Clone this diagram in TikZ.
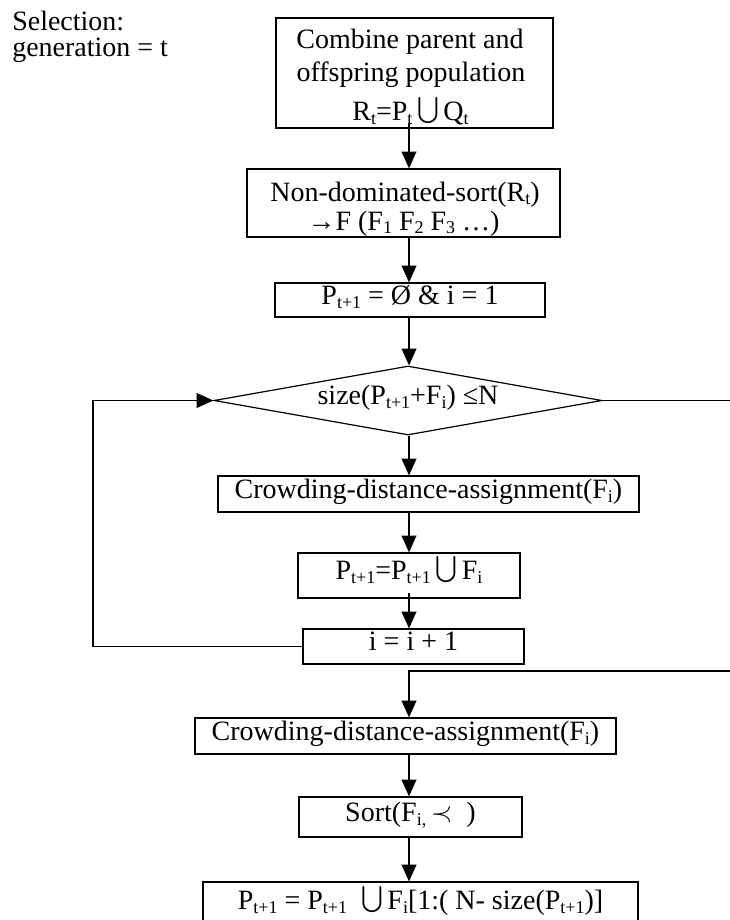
\documentclass[tikz,border=0pt]{standalone}
\usepackage{fontspec}
\usepackage{graphicx}
\setmainfont{Liberation Serif}
\usetikzlibrary{arrows.meta,shapes.geometric}
\newcommand\sbs[1]{\raisebox{-0.14em}{\fontsize{13.5}{13.5}\selectfont #1}}
\newcommand\bigun{\raisebox{-0.12em}{\resizebox{!}{0.95em}{$\bigcup$}}}
\newcommand\precsym{$\prec$}
\begin{document}
\begin{tikzpicture}[x=0.75pt,y=-0.75pt,
  font=\fontsize{21}{24}\selectfont,
  box/.style={draw, line width=0.9pt, inner sep=0pt, text height=0.66em, text depth=0pt},
  txt/.style={anchor=base, inner sep=0pt, text height=0.66em, text depth=0pt},
  arr/.style={line width=1pt, line join=miter, -{Triangle[length=12.5pt,width=11pt]}}]
\useasboundingbox (0,0) rectangle (730,920);
\clip (0,0) rectangle (730,920);

\node[anchor=base west, inner sep=0pt] (sel) at (12,31) {Selection:};
\node[anchor=base west, inner sep=0pt] (gen) at (12,57) {generation = t};

\node[box, minimum width=277*0.75pt, minimum height=110*0.75pt] (b1) at (414.5,73) {};
\node[txt] (b1a) at (410,49) {Combine parent and};
\node[txt] (b1b) at (411,82) {offspring population};
\node[txt] (b1c) at (410.5,121) {R\sbs{t}=P\sbs{t}\,\bigun\,Q\sbs{t}};

\node[box, minimum width=313*0.75pt, minimum height=68*0.75pt] (b2) at (403.5,203) {};
\node[txt] (b2a) at (405,201) {Non-dominated-sort(R\sbs{t})};
\node[txt] (b2b) at (403.5,230) {→F (F\sbs{1} F\sbs{2} F\sbs{3} …)};

\node[box, minimum width=270*0.75pt, minimum height=34*0.75pt] (b3) at (410,300) {P\sbs{t+1} = Ø \& i = 1};

\node[draw, diamond, line width=0.9pt, inner sep=0pt, shape aspect=5.6,
      minimum width=388*0.75pt, minimum height=69*0.75pt,
      text height=0.66em, text depth=0pt] (dia) at (408,400.5) {size(P\sbs{t+1}+F\sbs{i}) ≤N};

\node[box, minimum width=421*0.75pt, minimum height=36*0.75pt] (c1) at (428.5,494) {Crowding-distance-assignment(F\sbs{i})};
\node[box, minimum width=222*0.75pt, minimum height=45*0.75pt] (u) at (409,575.5) {P\sbs{t+1}=P\sbs{t+1}\,\bigun\,F\sbs{i}};
\node[box, minimum width=221*0.75pt, minimum height=35*0.75pt] (inc) at (413.5,646.5) {i = i + 1};
\node[box, minimum width=421*0.75pt, minimum height=36*0.75pt] (c2) at (405.5,736) {Crowding-distance-assignment(F\sbs{i})};
\node[box, minimum width=223*0.75pt, minimum height=40*0.75pt] (sort) at (410.5,817) {Sort(F\sbs{i,}\,\precsym\ \ )};
\node[box, minimum width=435*0.75pt, minimum height=47*0.75pt] (last) at (420.5,905.5) {P\sbs{t+1} = P\sbs{t+1} \ \bigun\,F\sbs{i}[1:( N- size(P\sbs{t+1})]};

\coordinate (col) at (409,0);
\coordinate (L) at (93,0);
\coordinate (R) at (736,671);
\draw[arr] ([yshift=4.5pt]b1.south -| col) -- (b2.north -| col);
\draw[arr] (b2.south -| col) -- (b3.north -| col);
\draw[arr] (b3.south -| col) -- (dia.north -| col);
\draw[arr] (dia.south -| col) -- (c1.north -| col);
\draw[arr] (c1.south -| col) -- (u.north -| col);
\draw[arr] ([yshift=4.5pt]u.south -| col) -- (inc.north -| col);
\draw[arr] (inc.west) -- (inc.west -| L) -- (L |- dia.west) -- (dia.west);
\draw[arr] (dia.east) -- (dia.east -| R) -- (R) -- (R -| col) -- (c2.north -| col);
\draw[arr] (c2.south -| col) -- (sort.north -| col);
\draw[arr] (sort.south -| col) -- (last.north -| col);
\end{tikzpicture}
\end{document}
